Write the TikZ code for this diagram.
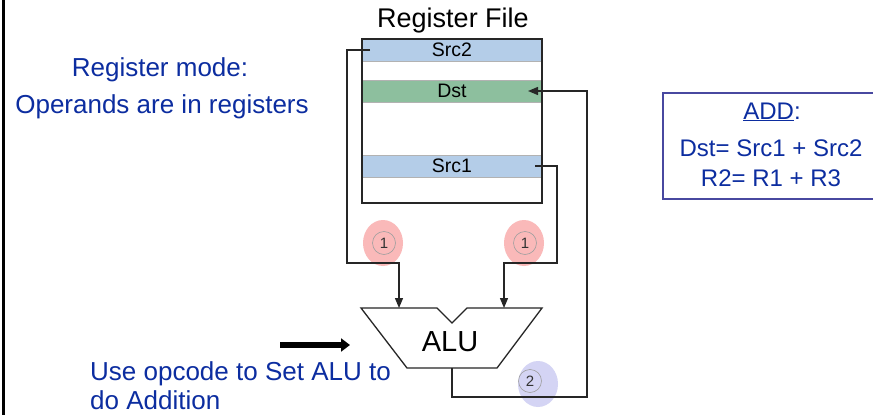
\documentclass[tikz,border=0pt]{standalone}
\usepackage{fontspec}
\setmainfont{Liberation Sans}
\usetikzlibrary{arrows.meta}
\definecolor{txtblue}{RGB}{12,45,160}
\definecolor{boxblue}{RGB}{72,72,160}
\definecolor{srcblue}{RGB}{180,205,232}
\definecolor{dstgreen}{RGB}{141,191,158}
\definecolor{pinkfill}{RGB}{250,185,185}
\definecolor{lavfill}{RGB}{212,212,244}
\tikzset{
  row/.style={draw=gray!60, line width=0.8pt, minimum width=180pt, minimum height=22pt, inner sep=0pt, font=\fontsize{19.5}{19.5}\selectfont},
  wire/.style={draw=black!85, line width=1.3pt},
  arr/.style={wire, -{Triangle[length=10pt,width=8pt]}},
  bluetext/.style={text=txtblue, font=\fontsize{26}{29}\selectfont},
  addtext/.style={text=txtblue, font=\fontsize{24}{28}\selectfont},
  stepnum/.style={circle, draw=gray!75, line width=0.6pt, minimum size=23pt, inner sep=0pt, font=\fontsize{15}{15}\selectfont, text=black!80},
}
\begin{document}
\begin{tikzpicture}[x=1pt,y=-1pt]
\clip (0,0) rectangle (873,415);
\fill[white] (0,0) rectangle (873,415);
\draw[line width=3pt] (3.5,0) -- (3.5,415);

% highlight ellipses
\fill[pinkfill] (383,243) ellipse [x radius=20, y radius=23];
\fill[pinkfill] (524,243) ellipse [x radius=20, y radius=23];
\fill[lavfill] (538,384) ellipse [x radius=20, y radius=23];

% register file
\node[font=\fontsize{27}{27}\selectfont] (rftitle) at (453,21) {Register File};
\node[row, fill=srcblue] (src2) at (452,50) {Src2};
\node[row, fill=dstgreen] (dst) at (452,91) {Dst};
\node[row, fill=srcblue] (src1) at (452,166) {Src1};
\draw[line width=2.2pt, black!85] (362,39) rectangle (542,203);
\node[inner sep=0pt] (rf) at (452,121) {};

% ALU
\draw[line width=1.3pt, black!85] (361,308) -- (437,308) -- (452,323) -- (467,308) -- (542,308) -- (497,368) -- (407,368) -- cycle;
\node[font=\fontsize{29}{29}\selectfont] (alu) at (450,342) {ALU};
\coordinate (aluinA) at (399,308);
\coordinate (aluinB) at (504,308);
\coordinate (aluout) at (452,368);

% connectors
\coordinate (s2o) at (370,50);
\coordinate (s1o) at (535,166);
\coordinate (dsti) at (528,91);
\draw[arr] (s2o) -- (347,50) -- (347,263) -- (399,263) -- (aluinA);
\draw[arr] (s1o) -- (557,166) -- (557,263) -- (504,263) -- (aluinB);
\draw[arr] (aluout) -- (452,397) -- (587,397) -- (587,91) -- (dsti);

% step numbers
\node[stepnum] (n1a) at (384,243) {1};
\node[stepnum] (n1b) at (525,243) {1};
\node[stepnum] (n2) at (530,381) {2};

% texts
\node[bluetext] (mode1) at (160,70) {Register mode:};
\node[bluetext] (mode2) at (162,107) {Operands are in registers};
\node[bluetext, anchor=west, align=left, inner sep=0pt] (opc) at (90,386) {Use opcode to Set ALU to\\do Addition};
\coordinate (opcarr) at (280,345);
\draw[line width=6pt, -{Triangle[length=9pt,width=13pt]}] (opcarr) -- (350,345);

% ADD box
\draw[boxblue, line width=1.3pt] (663,93) rectangle (880,199);
\node[addtext] (addh) at (772,112) {\underline{ADD}:};
\node[addtext] (addl1) at (771,148) {Dst= Src1 + Src2};
\node[addtext] (addl2) at (771,178) {R2= R1 + R3};
\end{tikzpicture}
\end{document}
